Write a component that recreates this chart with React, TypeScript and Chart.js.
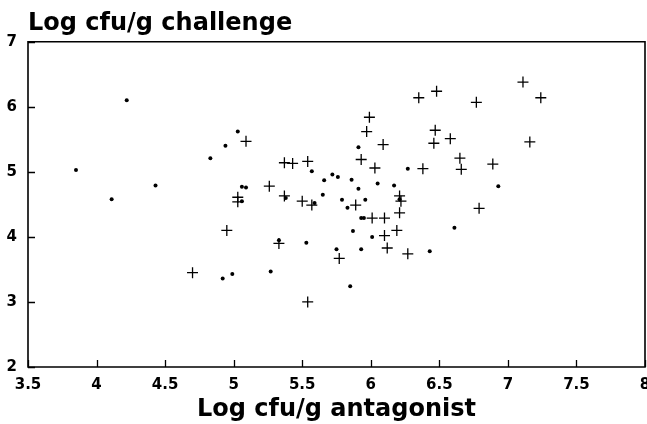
import React, { useEffect, useRef } from "react";
import { Chart, registerables } from "chart.js";

Chart.register(...registerables);

// Tick values
const xTickValues = [3.5, 4, 4.5, 5, 5.5, 6, 6.5, 7, 7.5, 8];
const yTickValues = [2, 3, 4, 5, 6, 7];

// Series 1: small dots
const dotAntagonist = [
  3.85, 4.11, 4.22, 4.43, 4.83, 4.94, 5.03, 5.06, 5.09, 5.06, 4.92, 4.99, 5.27, 5.33,
  5.53, 5.38, 5.57, 5.59, 5.65, 5.66, 5.72, 5.76, 5.86, 5.91, 5.91, 5.79, 5.83, 5.96,
  5.93, 5.95, 6.05, 6.17, 6.27, 6.21, 5.87, 6.01, 5.75, 5.93, 5.85, 6.43, 6.61, 6.93,
];
const dotChallenge = [
  5.03, 4.58, 6.1, 4.79, 5.21, 5.4, 5.62, 4.77, 4.76, 4.55, 3.36, 3.43, 3.47, 3.95,
  3.91, 4.6, 5.01, 4.52, 4.65, 4.87, 4.96, 4.92, 4.88, 5.38, 4.74, 4.57, 4.45, 4.57,
  4.29, 4.29, 4.82, 4.79, 5.05, 4.58, 4.09, 4.0, 3.81, 3.81, 3.24, 3.78, 4.14, 4.78,
];

// Series 2: plus crosses
const crossAntagonist = [
  4.7, 4.95, 5.03, 5.03, 5.09, 5.26, 5.37, 5.43, 5.54, 5.37, 5.5, 5.57, 5.33, 5.54,
  5.77, 5.89, 5.93, 5.97, 5.99, 6.03, 6.09, 6.01, 6.1, 6.1, 6.12, 6.19, 6.21, 6.21,
  6.22, 6.27, 6.35, 6.38, 6.46, 6.47, 6.48, 6.58, 6.65, 6.66, 6.77, 6.79, 6.89, 7.11,
  7.16, 7.24,
];
const crossChallenge = [
  3.45, 4.1, 4.61, 4.54, 5.47, 4.78, 5.14, 5.13, 5.16, 4.63, 4.55, 4.49, 3.9, 3.0,
  3.67, 4.49, 5.19, 5.62, 5.84, 5.06, 5.42, 4.29, 4.29, 4.02, 3.83, 4.1, 4.37, 4.63,
  4.55, 3.74, 6.14, 5.05, 5.44, 5.64, 6.24, 5.51, 5.21, 5.04, 6.07, 4.44, 5.12, 6.38,
  5.46, 6.14,
];

const FONT = '"DejaVu Sans", sans-serif';

const framePlugin = {
  id: "frame",
  afterDraw(chart: any) {
    const ctx = chart.ctx;
    const xs = chart.scales.x;
    const ys = chart.scales.y;
    const left = xs.left;
    const right = xs.right;
    const top = ys.top;
    const bottom = ys.bottom;
    ctx.save();
    ctx.strokeStyle = "#000";
    ctx.lineWidth = 1.6;
    ctx.beginPath();
    ctx.rect(left, top, right - left, bottom - top);
    ctx.stroke();
    ctx.lineWidth = 1.3;
    ctx.beginPath();
    xTickValues.forEach((v) => {
      const px = Math.round(xs.getPixelForValue(v)) + 0.5;
      ctx.moveTo(px, bottom);
      ctx.lineTo(px, bottom - 7);
    });
    yTickValues.forEach((v) => {
      const py = Math.round(ys.getPixelForValue(v)) + 0.5;
      ctx.moveTo(left, py);
      ctx.lineTo(left + 7, py);
    });
    ctx.stroke();
    ctx.restore();
  },
};

export default function App() {
  const ref = useRef<HTMLCanvasElement | null>(null);

  useEffect(() => {
    if (!ref.current) return;
    const chart = new Chart(ref.current, {
      type: "scatter",
      data: {
        datasets: [
          {
            label: "dots",
            data: dotAntagonist.map((x, i) => ({ x, y: dotChallenge[i] })),
            pointStyle: "circle",
            pointRadius: 2,
            backgroundColor: "#000",
            borderColor: "#000",
            borderWidth: 0,
          },
          {
            label: "crosses",
            data: crossAntagonist.map((x, i) => ({ x, y: crossChallenge[i] })),
            pointStyle: "cross",
            pointRadius: 5.5,
            backgroundColor: "#000",
            borderColor: "#000",
            borderWidth: 1.3,
          },
        ],
      },
      options: {
        responsive: false,
        animation: false,
        layout: { autoPadding: false, padding: { left: 0, right: 2, top: 0, bottom: 0 } },
        plugins: {
          legend: { display: false },
          tooltip: { enabled: false },
          title: {
            display: true,
            fullSize: false,
            text: "Log cfu/g challenge",
            align: "start",
            color: "#000",
            font: { family: FONT, size: 24, weight: "bold" },
            padding: { top: 9, bottom: 4 },
          },
        },
        scales: {
          x: {
            type: "linear",
            min: 3.5,
            max: 8,
            afterBuildTicks: (scale: any) => {
              scale.ticks = xTickValues.map((v) => ({ value: v }));
            },
            afterFit: (scale: any) => {
              scale.paddingLeft = 0;
              scale.paddingRight = 0;
              scale.height = 57;
            },
            grid: { display: false, drawTicks: false },
            border: { display: false },
            ticks: {
              color: "#000",
              padding: 9.5,
              maxRotation: 0,
              autoSkip: false,
              callback: (v: any) => String(v),
              font: { family: FONT, size: 15, weight: "bold" },
            },
            title: {
              display: true,
              text: "Log cfu/g antagonist",
              color: "#000",
              font: { family: FONT, size: 24, weight: "bold" },
              padding: { top: 0, bottom: 0 },
            },
          },
          y: {
            type: "linear",
            min: 2,
            max: 7,
            afterBuildTicks: (scale: any) => {
              scale.ticks = yTickValues.map((v) => ({ value: v }));
            },
            afterFit: (scale: any) => {
              scale.width = 28;
              scale.paddingTop = 0;
              scale.paddingBottom = 0;
            },
            grid: { display: false, drawTicks: false },
            border: { display: false },
            ticks: {
              color: "#000",
              padding: 11,
              callback: (v: any) => String(v),
              font: { family: FONT, size: 15, weight: "bold" },
            },
          },
        },
      },
      plugins: [framePlugin],
    });
    return () => chart.destroy();
  }, []);

  return (
    <div style={{ position: "fixed", left: 0, top: 0, width: 647, height: 424, background: "#fff" }}>
      <canvas ref={ref} width={647} height={424} style={{ display: "block" }} />
    </div>
  );
}
